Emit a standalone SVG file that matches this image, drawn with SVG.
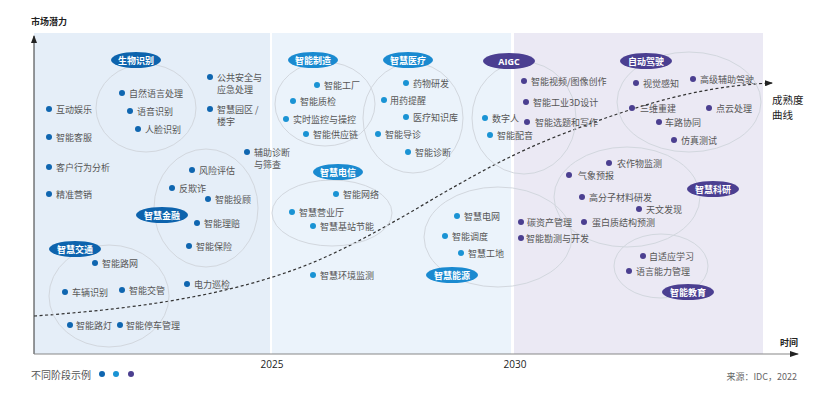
<svg xmlns="http://www.w3.org/2000/svg" width="831" height="417" viewBox="0 0 831 417">
<defs>
<style>
.t{font-family:"Noto Sans CJK SC","Liberation Sans",sans-serif;font-size:9px;fill:#555;dominant-baseline:central}
.lb{font-family:"Noto Sans CJK SC","Liberation Sans",sans-serif;font-size:9px;font-weight:bold;fill:#fff;text-anchor:middle;dominant-baseline:central}
.ax{font-family:"Noto Sans CJK SC","Liberation Sans",sans-serif;font-size:9px;font-weight:bold;fill:#222}
.cv{font-family:"Noto Sans CJK SC","Liberation Sans",sans-serif;font-size:10.5px;fill:#222}
.yr{font-family:"Open Sans","Liberation Sans",sans-serif;font-size:10px;fill:#222;text-anchor:middle}
.ring{fill:none;stroke:#d2d7de;stroke-width:1}
.d1{fill:#0f66b0}.d2{fill:#1a93d4}.d3{fill:#4b3f90}
.e1{fill:#0d63ad}.e2{fill:#1a8ad0}.e3{fill:#4b3f91}
</style>
<marker id="ah" markerWidth="8" markerHeight="6" refX="7" refY="3" orient="auto" markerUnits="userSpaceOnUse"><path d="M0,0 L8,3 L0,6 Z" fill="#222"/></marker>
</defs>
<rect width="831" height="417" fill="#fff"/>
<!-- panels -->
<rect x="34" y="33" width="236" height="321" fill="#e5eef8"/>
<rect x="272" y="33" width="239" height="321" fill="#ebf3fb"/>
<rect x="514" y="33" width="249" height="321" fill="#ebe9f4"/>

<!-- axes -->
<g id="axes">
<line x1="34" y1="354" x2="34" y2="36" stroke="#333" stroke-width="1" marker-end="url(#ah)"/>
<line x1="34" y1="354" x2="798" y2="354" stroke="#888" stroke-width="1.2"/>
<path d="M790,351 L799,354 L790,357 Z" fill="#222"/>
<text class="ax" x="31" y="25">市场潜力</text>
<text class="ax" x="780" y="346">时间</text>
<text class="yr" x="272" y="368">2025</text>
<text class="yr" x="515" y="368">2030</text>
</g>

<!-- maturity curve -->
<g id="connectors">
<path d="M34,316 C150,308 250,292 330,255 C410,218 470,170 560,135 C640,104 700,86 772,83" fill="none" stroke="#333" stroke-width="1.2" stroke-dasharray="3 2.5" marker-end="url(#ah)"/>
</g>
<g id="curve-label">
<text class="cv" x="772" y="104">成熟度</text>
<text class="cv" x="772" y="119">曲线</text>
</g>

<!-- Stage 1 -->
<g id="biometric">
<ellipse class="ring" cx="146" cy="108" rx="50" ry="44"/>
<ellipse class="e1" cx="136" cy="60" rx="25" ry="8"/>
<text class="lb" x="136" y="60">生物识别</text>
<circle class="d1" cx="122" cy="93" r="3"/><text class="t" x="129" y="93">自然语言处理</text>
<circle class="d1" cx="130" cy="111" r="3"/><text class="t" x="137" y="111">语音识别</text>
<circle class="d1" cx="138" cy="129" r="3"/><text class="t" x="145" y="129">人脸识别</text>
</g>
<g id="left-items">
<circle class="d1" cx="49" cy="109" r="3"/><text class="t" x="56" y="109">互动娱乐</text>
<circle class="d1" cx="49" cy="137" r="3"/><text class="t" x="56" y="137">智能客服</text>
<circle class="d1" cx="49" cy="167" r="3"/><text class="t" x="56" y="167">客户行为分析</text>
<circle class="d1" cx="49" cy="194" r="3"/><text class="t" x="56" y="194">精准营销</text>
</g>
<g id="public-safety">
<circle class="d1" cx="210" cy="77" r="3"/><text class="t" x="217" y="77">公共安全与</text><text class="t" x="217" y="89">应急处理</text>
</g>
<g id="smart-park">
<circle class="d1" cx="210" cy="109" r="3"/><text class="t" x="217" y="109">智慧园区 /</text><text class="t" x="217" y="121">楼宇</text>
</g>
<g id="diagnosis">
<circle class="d1" cx="247" cy="152" r="3"/><text class="t" x="254" y="152">辅助诊断</text><text class="t" x="254" y="164">与筛查</text>
</g>
<g id="finance">
<ellipse class="ring" cx="206" cy="208" rx="52" ry="59"/>
<ellipse class="e1" cx="162" cy="215" rx="26" ry="8"/>
<text class="lb" x="162" y="215">智慧金融</text>
<circle class="d1" cx="192" cy="170" r="3"/><text class="t" x="199" y="170">风险评估</text>
<circle class="d1" cx="172" cy="188" r="3"/><text class="t" x="179" y="188">反欺诈</text>
<circle class="d1" cx="208" cy="199" r="3"/><text class="t" x="215" y="199">智能投顾</text>
<circle class="d1" cx="197" cy="223" r="3"/><text class="t" x="204" y="223">智能理赔</text>
<circle class="d1" cx="189" cy="246" r="3"/><text class="t" x="196" y="246">智能保险</text>
</g>
<g id="traffic">
<ellipse class="ring" cx="109" cy="296" rx="60" ry="51"/>
<ellipse class="e1" cx="75" cy="249" rx="26" ry="8"/>
<text class="lb" x="75" y="249">智慧交通</text>
<circle class="d1" cx="95" cy="263" r="3"/><text class="t" x="102" y="263">智能路网</text>
<circle class="d1" cx="65" cy="292" r="3"/><text class="t" x="72" y="292">车辆识别</text>
<circle class="d1" cx="122" cy="290" r="3"/><text class="t" x="129" y="290">智能交管</text>
<circle class="d1" cx="70" cy="325" r="3"/><text class="t" x="76" y="325">智能路灯</text>
<circle class="d1" cx="120" cy="325" r="3"/><text class="t" x="126" y="325">智能停车管理</text>
</g>
<g id="power-inspection">
<circle class="d1" cx="187" cy="284" r="3"/><text class="t" x="194" y="284">电力巡检</text>
</g>

<!-- Stage 2 -->
<g id="manufacturing">
<ellipse class="ring" cx="325" cy="104" rx="50" ry="42"/>
<ellipse class="e2" cx="313" cy="60" rx="25" ry="8"/>
<text class="lb" x="313" y="60">智能制造</text>
<circle class="d2" cx="317" cy="85" r="3"/><text class="t" x="324" y="85">智能工厂</text>
<circle class="d2" cx="293" cy="101" r="3"/><text class="t" x="300" y="101">智能质检</text>
<circle class="d2" cx="286" cy="119" r="3"/><text class="t" x="293" y="119">实时监控与操控</text>
<circle class="d2" cx="306" cy="134" r="3"/><text class="t" x="313" y="134">智能供应链</text>
</g>
<g id="medical">
<ellipse class="ring" cx="413" cy="118" rx="50" ry="55"/>
<ellipse class="e2" cx="408" cy="60" rx="25" ry="8"/>
<text class="lb" x="408" y="60">智慧医疗</text>
<circle class="d2" cx="406" cy="83" r="3"/><text class="t" x="413" y="83">药物研发</text>
<circle class="d2" cx="384" cy="100" r="3"/><text class="t" x="390" y="100">用药提醒</text>
<circle class="d2" cx="406" cy="117" r="3"/><text class="t" x="413" y="117">医疗知识库</text>
<circle class="d2" cx="378" cy="134" r="3"/><text class="t" x="385" y="134">智能导诊</text>
<circle class="d2" cx="408" cy="152" r="3"/><text class="t" x="415" y="152">智能诊断</text>
</g>
<g id="telecom">
<ellipse class="ring" cx="332" cy="213" rx="60" ry="33"/>
<ellipse class="e2" cx="338" cy="172" rx="25" ry="8"/>
<text class="lb" x="338" y="172">智慧电信</text>
<circle class="d2" cx="336" cy="194" r="3"/><text class="t" x="343" y="194">智能网络</text>
<circle class="d2" cx="292" cy="212" r="3"/><text class="t" x="299" y="212">智慧营业厅</text>
<circle class="d2" cx="313" cy="226" r="3"/><text class="t" x="320" y="226">智慧基站节能</text>
</g>
<g id="env-monitor">
<circle class="d2" cx="313" cy="275" r="3"/><text class="t" x="320" y="275">智慧环境监测</text>
</g>
<g id="energy">
<ellipse class="ring" cx="498" cy="237" rx="74" ry="50"/>
<ellipse class="e2" cx="452" cy="275" rx="26" ry="8"/>
<text class="lb" x="452" y="275">智慧能源</text>
<circle class="d2" cx="457" cy="216" r="3"/><text class="t" x="464" y="216">智慧电网</text>
<circle class="d2" cx="445" cy="236" r="3"/><text class="t" x="452" y="236">智能调度</text>
<circle class="d2" cx="461" cy="253" r="3"/><text class="t" x="468" y="253">智慧工地</text>
</g>
<g id="aigc">
<ellipse class="ring" cx="524" cy="118" rx="52" ry="56"/>
<ellipse class="e3" cx="509" cy="61" rx="26" ry="8"/>
<text class="lb" x="509" y="61" style="font-family:'Open Sans','Liberation Sans',sans-serif">AIGC</text>
<circle class="d2" cx="485" cy="118" r="3"/><text class="t" x="492" y="118">数字人</text>
<circle class="d2" cx="490" cy="135" r="3"/><text class="t" x="497" y="135">智能配音</text>
<circle class="d3" cx="524" cy="81" r="3"/><text class="t" x="531" y="81">智能视频/图像创作</text>
<circle class="d3" cx="526" cy="102" r="3"/><text class="t" x="533" y="102">智能工业3D设计</text>
<circle class="d3" cx="527" cy="122" r="3"/><text class="t" x="535" y="122">智能选题和写作</text>
</g>

<!-- Stage 3 -->
<g id="autodrive">
<ellipse class="ring" cx="689" cy="102" rx="72" ry="50"/>
<ellipse class="e3" cx="646" cy="61" rx="26" ry="8"/>
<text class="lb" x="646" y="61">自动驾驶</text>
<circle class="d3" cx="636" cy="83" r="3"/><text class="t" x="643" y="83">视觉感知</text>
<circle class="d3" cx="693" cy="79" r="3"/><text class="t" x="700" y="79">高级辅助驾驶</text>
<circle class="d3" cx="632" cy="108" r="3"/><text class="t" x="640" y="108">三维重建</text>
<circle class="d3" cx="709" cy="108" r="3"/><text class="t" x="716" y="108">点云处理</text>
<circle class="d3" cx="659" cy="122" r="3"/><text class="t" x="665" y="122">车路协同</text>
<circle class="d3" cx="674" cy="140" r="3"/><text class="t" x="681" y="140">仿真测试</text>
</g>
<g id="research">
<ellipse class="ring" cx="627" cy="197" rx="73" ry="50"/>
<ellipse class="e3" cx="713" cy="189" rx="26" ry="8"/>
<text class="lb" x="713" y="189">智慧科研</text>
<circle class="d3" cx="609" cy="163" r="3"/><text class="t" x="617" y="163">农作物监测</text>
<circle class="d3" cx="569" cy="175" r="3"/><text class="t" x="578" y="175">气象预报</text>
<circle class="d3" cx="582" cy="197" r="3"/><text class="t" x="589" y="197">高分子材料研发</text>
<circle class="d3" cx="639" cy="209" r="3"/><text class="t" x="646" y="209">天文发现</text>
<circle class="d3" cx="584" cy="222" r="3"/><text class="t" x="592" y="222">蛋白质结构预测</text>
</g>
<g id="carbon">
<circle class="d3" cx="521" cy="222" r="3"/><text class="t" x="527" y="222">碳资产管理</text>
</g>
<g id="survey">
<circle class="d3" cx="521" cy="238" r="3"/><text class="t" x="526" y="238">智能勘测与开发</text>
</g>
<g id="education">
<ellipse class="ring" cx="661" cy="266" rx="47" ry="32"/>
<ellipse class="e3" cx="688" cy="292" rx="26" ry="8"/>
<text class="lb" x="688" y="292">智能教育</text>
<circle class="d3" cx="643" cy="256" r="3"/><text class="t" x="649" y="256">自适应学习</text>
<circle class="d3" cx="629" cy="271" r="3"/><text class="t" x="636" y="271">语言能力管理</text>
</g>

<!-- legend -->
<g id="legend">
<text class="t" x="31" y="374" style="font-size:10px;fill:#555">不同阶段示例</text>
<circle class="d1" cx="102" cy="374" r="3"/>
<circle class="d2" cx="116" cy="374" r="3"/>
<circle class="d3" cx="131" cy="374" r="3"/>
</g>
<g id="source">
<text class="t" x="797" y="376" style="text-anchor:end;fill:#666">来源：IDC，2022</text>
</g>
</svg>
